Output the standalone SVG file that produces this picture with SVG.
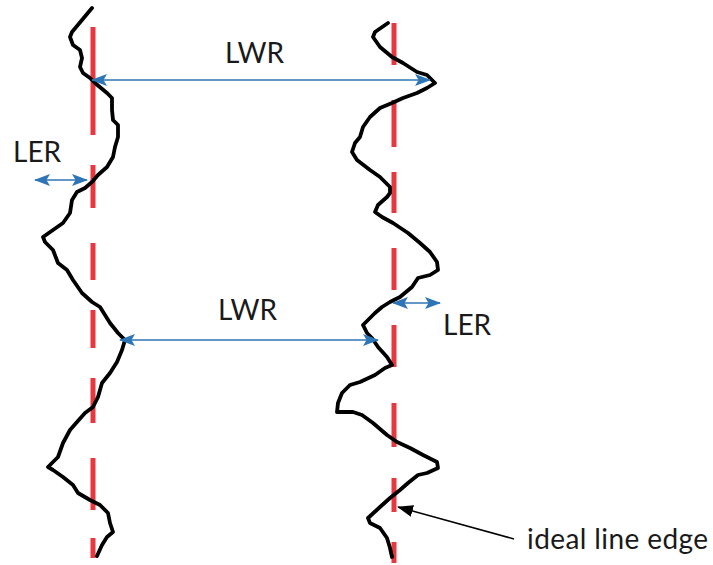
<svg xmlns="http://www.w3.org/2000/svg" width="713" height="565" viewBox="0 0 713 565">
<style>
.ideal{stroke:#E8383F;stroke-width:5;fill:none;stroke-linecap:butt}
.edge{stroke:#000;stroke-width:3.8;fill:none;stroke-linejoin:round;stroke-linecap:round}
.dim{stroke:#2E75B6;stroke-width:1.7;fill:none}
.lbl{font-family:Lato,"Liberation Sans",sans-serif;font-size:28px;fill:#1a1a1a}
</style>
<defs>
<marker id="blueHead" markerUnits="userSpaceOnUse" markerWidth="16" markerHeight="12" refX="15" refY="6" orient="auto-start-reverse" viewBox="0 0 16 12">
<path d="M0,0 L16,6 L0,12 L3.5,6 z" fill="#2E75B6"/>
</marker>
<marker id="blackHead" markerUnits="userSpaceOnUse" markerWidth="16" markerHeight="12" refX="15" refY="6" orient="auto" viewBox="0 0 16 12">
<path d="M0,0 L16,6 L0,12 z" fill="#000"/>
</marker>
</defs>
<g id="ideal-left">
<path class="ideal" d="M93,27 V135 M93,165 V208 M93,243 V280 M93,310 V348 M93,378 V423 M93,458 V510 M93,538 V558"/>
</g>
<g id="ideal-right">
<path class="ideal" d="M394,23 V65 M394,100 V147 M394,172 V213 M394,248 V290 M394,325 V367 M394,403 V447 M394,478 V512 M394,542 V563"/>
</g>
<g id="edge-left">
<polyline class="edge" points="92,8 72,32 70,37 73,45 80,50 82,58 80,67 83,73 90,78 95,83 107,93 112,98 112,110 113,120 118,125 118,137 115,147 113,157 107,167 98,175 92,182 85,188 77,192 72,200 70,213 63,223 53,230 43,237 45,242 53,250 58,263 67,270 73,280 82,293 92,302 100,307 105,315 110,323 118,333 125,340 122,350 117,362 110,373 102,383 98,397 93,407 85,413 77,422 70,430 63,443 58,457 48,467 53,470 63,477 73,485 78,493 90,500 100,505 108,513 110,523 113,532 107,537 102,545 97,556"/>
</g>
<g id="edge-right">
<polyline class="edge" points="388,23 375,32 373,37 380,47 392,57 403,63 417,72 427,75 435,83 427,88 417,93 403,98 392,103 380,108 370,117 363,127 360,137 355,143 352,152 357,160 370,170 380,177 390,187 390,193 387,197 378,205 375,212 382,217 393,223 408,233 420,243 430,252 437,262 438,270 430,275 418,278 412,287 400,297 390,302 382,307 375,313 368,320 363,325 367,333 372,338 378,347 387,357 392,365 385,368 375,375 360,382 350,385 342,393 338,403 337,412 353,412 362,415 373,423 387,435 397,442 410,448 423,455 437,462 438,468 427,473 418,475 408,483 400,490 390,498 380,507 368,518 370,523 380,528 387,538 390,548 392,557"/>
</g>
<g id="connectors">
<line class="dim" x1="92" y1="80" x2="430" y2="80" marker-start="url(#blueHead)" marker-end="url(#blueHead)"/>
<line class="dim" x1="35" y1="180" x2="87" y2="180" marker-start="url(#blueHead)" marker-end="url(#blueHead)"/>
<line class="dim" x1="120" y1="340" x2="378" y2="340" marker-start="url(#blueHead)" marker-end="url(#blueHead)"/>
<line class="dim" x1="393" y1="303" x2="440" y2="303" marker-start="url(#blueHead)" marker-end="url(#blueHead)"/>
<line x1="514" y1="539" x2="398" y2="507" stroke="#000" stroke-width="1.5" marker-end="url(#blackHead)"/>
</g>
<g id="labels">
<text class="lbl" x="225" y="63">LWR</text>
<text class="lbl" x="13" y="162">LER</text>
<text class="lbl" x="218" y="320">LWR</text>
<text class="lbl" x="443" y="335">LER</text>
<text class="lbl" x="527" y="549" textLength="181" lengthAdjust="spacing">ideal line edge</text>
</g>
</svg>
